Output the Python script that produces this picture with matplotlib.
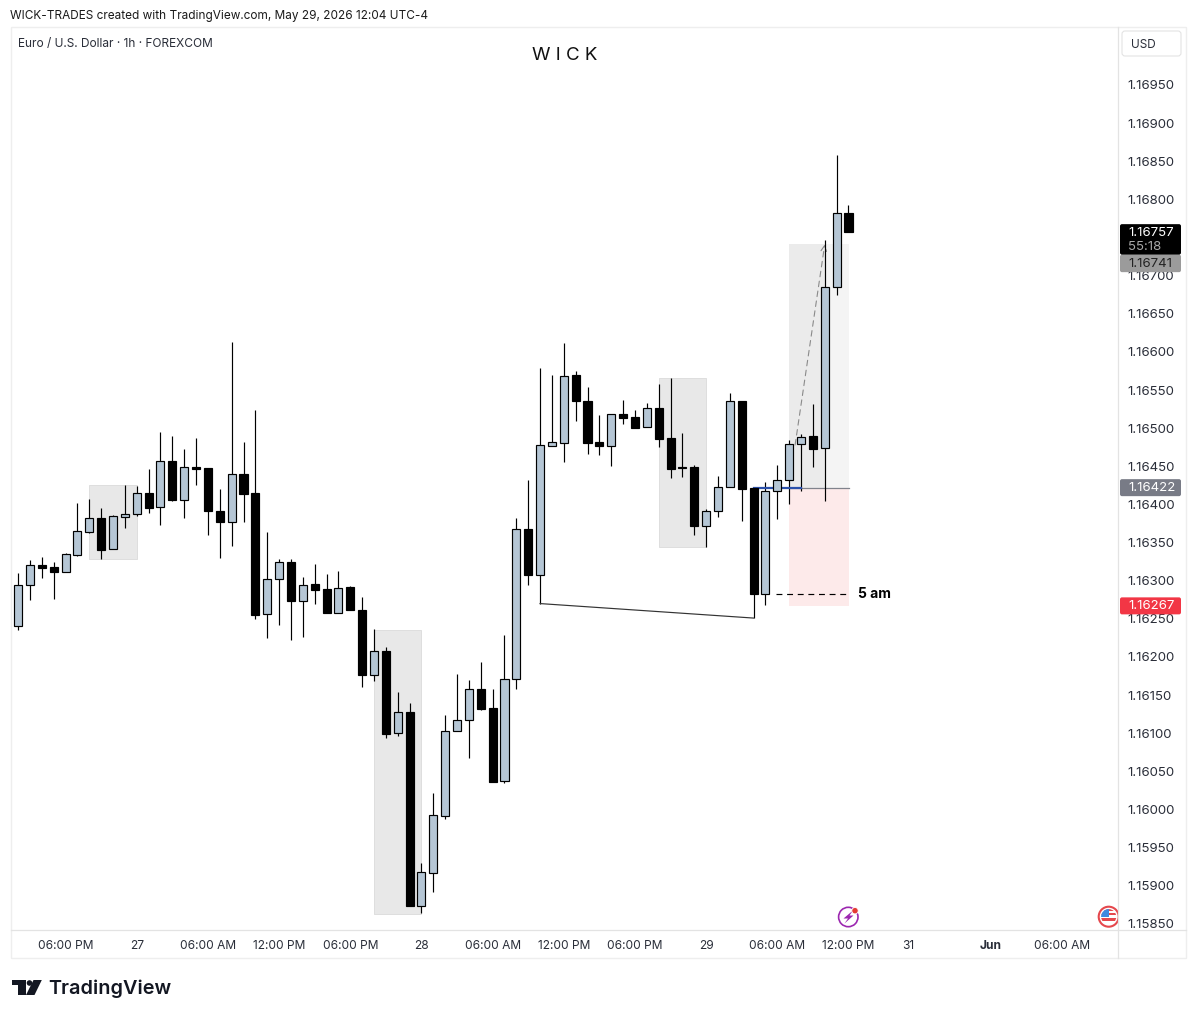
import matplotlib
matplotlib.use('Agg')
import matplotlib.pyplot as plt
from matplotlib.patches import Rectangle, Circle, Polygon, FancyBboxPatch
from matplotlib.transforms import Affine2D

plt.rcParams['font.family'] = ['Inter', 'DejaVu Sans']

W, H = 1196, 1018

opens = [
    1.16240, 1.16294, 1.16321, 1.16318, 1.16311, 1.16334, 1.16364, 1.16382, 1.16341, 1.16384,
    1.16388, 1.16415, 1.16396, 1.16457, 1.16406, 1.16449, 1.16448, 1.16391, 1.16377, 1.16440,
    1.16415, 1.16256, 1.16302, 1.16325, 1.16273, 1.16296, 1.16289, 1.16258, 1.16292, 1.16262,
    1.16177, 1.16208, 1.16100, 1.16128, 1.15873, 1.15917, 1.15992, 1.16103, 1.16117, 1.16158,
    1.16133, 1.16037, 1.16171, 1.16368, 1.16307, 1.16477, 1.16481, 1.16570, 1.16536, 1.16482,
    1.16477, 1.16519, 1.16515, 1.16501, 1.16527, 1.16487, 1.16449, 1.16449, 1.16372, 1.16392,
    1.16423, 1.16536, 1.16421, 1.16282, 1.16417, 1.16432, 1.16479, 1.16490, 1.16474, 1.16685,
    1.16782,
]
highs = [
    1.16310, 1.16327, 1.16331, 1.16325, 1.16336, 1.16402, 1.16407, 1.16395, 1.16386, 1.16426,
    1.16424, 1.16447, 1.16495, 1.16490, 1.16473, 1.16487, 1.16448, 1.16420, 1.16613, 1.16482,
    1.16524, 1.16364, 1.16329, 1.16329, 1.16305, 1.16322, 1.16309, 1.16313, 1.16293, 1.16279,
    1.16237, 1.16213, 1.16154, 1.16140, 1.15930, 1.16022, 1.16124, 1.16178, 1.16170, 1.16194,
    1.16158, 1.16229, 1.16382, 1.16432, 1.16579, 1.16570, 1.16612, 1.16575, 1.16554, 1.16517,
    1.16519, 1.16537, 1.16524, 1.16533, 1.16558, 1.16566, 1.16494, 1.16452, 1.16394, 1.16437,
    1.16546, 1.16536, 1.16422, 1.16429, 1.16452, 1.16485, 1.16492, 1.16532, 1.16747, 1.16858,
    1.16793,
]
lows = [
    1.16236, 1.16275, 1.16304, 1.16276, 1.16311, 1.16332, 1.16362, 1.16329, 1.16341, 1.16369,
    1.16385, 1.16389, 1.16373, 1.16404, 1.16382, 1.16426, 1.16360, 1.16330, 1.16346, 1.16377,
    1.16250, 1.16225, 1.16242, 1.16222, 1.16226, 1.16270, 1.16257, 1.16258, 1.16261, 1.16161,
    1.16168, 1.16094, 1.16097, 1.15873, 1.15864, 1.15892, 1.15988, 1.16103, 1.16068, 1.16131,
    1.16036, 1.16035, 1.16158, 1.16294, 1.16270, 1.16476, 1.16456, 1.16510, 1.16466, 1.16465,
    1.16450, 1.16506, 1.16500, 1.16501, 1.16475, 1.16435, 1.16436, 1.16360, 1.16344, 1.16384,
    1.16423, 1.16378, 1.16251, 1.16268, 1.16381, 1.16401, 1.16417, 1.16449, 1.16405, 1.16674,
    1.16757,
]
closes = [
    1.16294, 1.16320, 1.16317, 1.16311, 1.16335, 1.16365, 1.16382, 1.16340, 1.16385, 1.16388,
    1.16415, 1.16395, 1.16457, 1.16406, 1.16449, 1.16447, 1.16391, 1.16377, 1.16440, 1.16414,
    1.16255, 1.16302, 1.16324, 1.16273, 1.16295, 1.16288, 1.16258, 1.16291, 1.16261, 1.16177,
    1.16208, 1.16099, 1.16128, 1.15873, 1.15918, 1.15993, 1.16103, 1.16117, 1.16158, 1.16132,
    1.16036, 1.16171, 1.16368, 1.16307, 1.16478, 1.16482, 1.16569, 1.16535, 1.16481, 1.16477,
    1.16519, 1.16513, 1.16500, 1.16526, 1.16486, 1.16447, 1.16448, 1.16372, 1.16392, 1.16423,
    1.16535, 1.16420, 1.16282, 1.16417, 1.16432, 1.16479, 1.16489, 1.16473, 1.16685, 1.16782,
    1.16757,
]

# 1.16750 sits behind the last price label, so it is left out
y_ticks = [1.1585, 1.1590, 1.1595, 1.1600, 1.1605, 1.1610, 1.1615, 1.1620, 1.1625, 1.1630, 1.1635, 1.1640,
           1.1645, 1.1650, 1.1655, 1.1660, 1.1665, 1.1670, 1.1680, 1.1685, 1.1690, 1.1695]
x_tick_pos = [4, 10, 16, 22, 28, 34, 40, 46, 52, 58, 64, 70, 75, 82, 88]
x_tick_labels = ['06:00 PM', '27', '06:00 AM', '12:00 PM', '06:00 PM', '28', '06:00 AM', '12:00 PM',
                 '06:00 PM', '29', '06:00 AM', '12:00 PM', '31', 'Jun', '06:00 AM']

# grey boxes: first bar, last bar, top, bottom
zones = [
    (6, 10, 1.16426, 1.16328),
    (30, 34, 1.16236, 1.15863),
    (54, 58, 1.16566, 1.16344),
]
entry_price = 1.16422
target_price = 1.16741
stop_price = 1.16267
five_am_price = 1.16282
last_price = 1.16757
countdown = '55:18'
trend_x = [44, 62]
trend_y = [1.16270, 1.16251]

BULL = '#b5c6d5'
TEXT = '#2a2e39'
SEP = '#e3e3e3'

fig = plt.figure(figsize=(W / 100, H / 100), dpi=100, facecolor='white')

# pixel coordinates, origin top left
px = Affine2D().scale(1, -1).translate(0, H)

ax = fig.add_axes([11 / W, 1 - 930 / H, (1118 - 11) / W, (930 - 27) / H])
ax.set_xlim(-0.60, 92.72)
ax.set_ylim(1.15842, 1.17026)
for s in ax.spines.values():
    s.set_visible(False)

# Zones
for x0, x1, top, bot in zones:
    ax.add_patch(Rectangle((x0, bot), x1 - x0, top - bot, fc='#e8e8e8', ec='#dedede', lw=0.7, zorder=1))

# Long position tool
ax.add_patch(Rectangle((65, entry_price), 5.05, target_price - entry_price, fc='#f4f4f4', ec='none', zorder=1))
ax.add_patch(Rectangle((65, entry_price), 3, target_price - entry_price, fc='#ebebeb', ec='none', zorder=1))
ax.add_patch(Rectangle((65, stop_price), 5.05, entry_price - stop_price, fc='#fdeaea', ec='none', zorder=1))
ax.plot([65, 70.05], [entry_price, entry_price], color='#80838c', lw=0.9, zorder=2)
ax.annotate('', xy=(68, 1.16741), xytext=(65.5, 1.16478),
            arrowprops=dict(arrowstyle='->', color='#8a8a8a', lw=0.8, ls=(0, (5, 4)), shrinkA=0, shrinkB=0),
            zorder=2)

# Candles
idx = list(range(len(opens)))
ax.vlines(idx, lows, highs, color='black', lw=0.85, zorder=3)
for i in idx:
    o, c = opens[i], closes[i]
    up = c >= o
    ax.bar(i, abs(c - o), bottom=min(o, c), width=0.68, color=BULL if up else 'black',
           edgecolor='black', linewidth=0.85, zorder=4)

# Drawings on top of the candles
ax.plot([62, 66], [entry_price, entry_price], color='#2b50aa', lw=1.6, zorder=3.5)
ax.plot(trend_x, trend_y, color='#333333', lw=0.85, zorder=3)
ax.plot([63.9, 70], [five_am_price, five_am_price], color='black', lw=0.85, ls=(0, (5, 4)), zorder=3)
ax.text(70.8, five_am_price, '5 am', fontsize=10, fontweight='bold', color='black', va='center', ha='left')

# Axes ticks
ax.yaxis.tick_right()
ax.set_yticks(y_ticks)
ax.set_yticklabels([f'{v:.5f}' for v in y_ticks])
ax.set_xticks(x_tick_pos)
ax.set_xticklabels(x_tick_labels)
ax.tick_params(axis='y', length=0, pad=7, labelsize=9.5, labelcolor=TEXT)
ax.tick_params(axis='x', length=0, pad=7, labelsize=8.6, labelcolor=TEXT)
ax.get_xticklabels()[13].set_fontweight('bold')


def add(artist):
    artist.set_transform(px)
    fig.add_artist(artist)
    return artist


def price_y(price):
    # screen row of a price, for the labels in the scale
    return H - ax.transData.transform((0, price))[1]


def label_box(y0, y1, color, z=5):
    add(FancyBboxPatch((1120, y0), 61, y1 - y0, boxstyle='round,pad=0,rounding_size=2', fc=color, ec='none', zorder=z))


def px_text(x, y, s, **kw):
    fig.text(x, y, s, transform=px, zorder=6, **kw)


# Frame
add(Rectangle((10.5, 26.5), 1175, 931, fc='none', ec='#eeeeee', lw=1.0, zorder=2))
add(plt.Line2D([1118, 1118], [27, 958], color=SEP, lw=0.9, zorder=2))
add(plt.Line2D([11, 1186], [930, 930], color=SEP, lw=0.9, zorder=2))

# Price scale labels; the target label is pushed below the last price one
y = price_y(last_price)
label_box(y - 8, y + 22.5, 'black', z=5.5)
px_text(1128, y + 0.5, f'{last_price:.5f}', color='white', fontsize=9.5, va='center')
px_text(1128, y + 14.5, countdown, color='#a8a8a8', fontsize=9.5, va='center')
label_box(y + 22.5, y + 40, '#9b9b9b')
px_text(1128, y + 31.5, f'{target_price:.5f}', color='#222222', fontsize=9.5, va='center')
y = price_y(entry_price)
label_box(y - 8.5, y + 8.5, '#787b86')
px_text(1128, y + 0.5, f'{entry_price:.5f}', color='white', fontsize=9.5, va='center')
y = price_y(stop_price)
label_box(y - 8.5, y + 8.5, '#f23645')
px_text(1128, y + 0.5, f'{stop_price:.5f}', color='white', fontsize=9.5, va='center')

# USD button
add(FancyBboxPatch((1122, 31), 59, 25, boxstyle='round,pad=0,rounding_size=3', fc='white', ec=SEP, lw=0.8, zorder=5))
px_text(1131, 45, 'USD', color=TEXT, fontsize=8.5, va='center')

# Header and titles
px_text(10, 16, 'WICK-TRADES created with TradingView.com, May 29, 2026 12:04 UTC-4', color='#1a1a1a', fontsize=8.5, va='center')
px_text(18, 44, 'Euro / U.S. Dollar · 1h · FOREXCOM', color=TEXT, fontsize=8.55, va='center')
px_text(565, 56, 'W I C K', color='#111111', fontsize=13.5, va='center', ha='center')

# Lightning icon
add(Circle((848.3, 917), 9.7, fc='white', ec='#9c27b0', lw=1.2, zorder=3))
add(Polygon([(853, 910.5), (843.5, 918.5), (848, 918.5), (844.5, 923.5), (853.5, 915.5), (849.5, 915.5)],
            fc='#9c27b0', ec='none', zorder=3))
add(Circle((855, 910.7), 3.2, fc='#e53935', ec='white', lw=0.6, zorder=3.1))

# Flag icon, cut by the price scale
clip = Rectangle((1090, 900), 28, 40, transform=px)
ring = add(Circle((1108.7, 916.7), 10, fc='white', ec='#e5484d', lw=1.5, zorder=1.5))
ring.set_clip_path(clip)
disc = Circle((1108.7, 916.7), 7.6, transform=px)
for top, hgt, col in [(909, 2, '#e5484d'), (913, 2, '#e5484d'), (918, 3, '#e5484d'), (909, 8, '#3f8ae0')]:
    wid = 8 if col == '#3f8ae0' else 17
    st = add(Rectangle((1101, top), wid, hgt, fc=col, ec='none', zorder=1.6 if wid == 17 else 1.7))
    st.set_clip_path(disc)

# TradingView logo
add(Polygon([(12, 980), (26, 980), (26, 995), (18, 995), (18, 985), (12, 985)], fc='#131722', ec='none', zorder=3))
add(Circle((29.5, 983), 2.8, fc='#131722', ec='none', zorder=3))
add(Polygon([(33.5, 980), (41.8, 980), (34.5, 995), (26, 995)], fc='#131722', ec='none', zorder=3))
px_text(48, 989, 'TradingView', color='#131722', fontsize=14.3, fontweight='semibold', va='center')

fig.savefig('out.png', dpi=100, facecolor='white')
